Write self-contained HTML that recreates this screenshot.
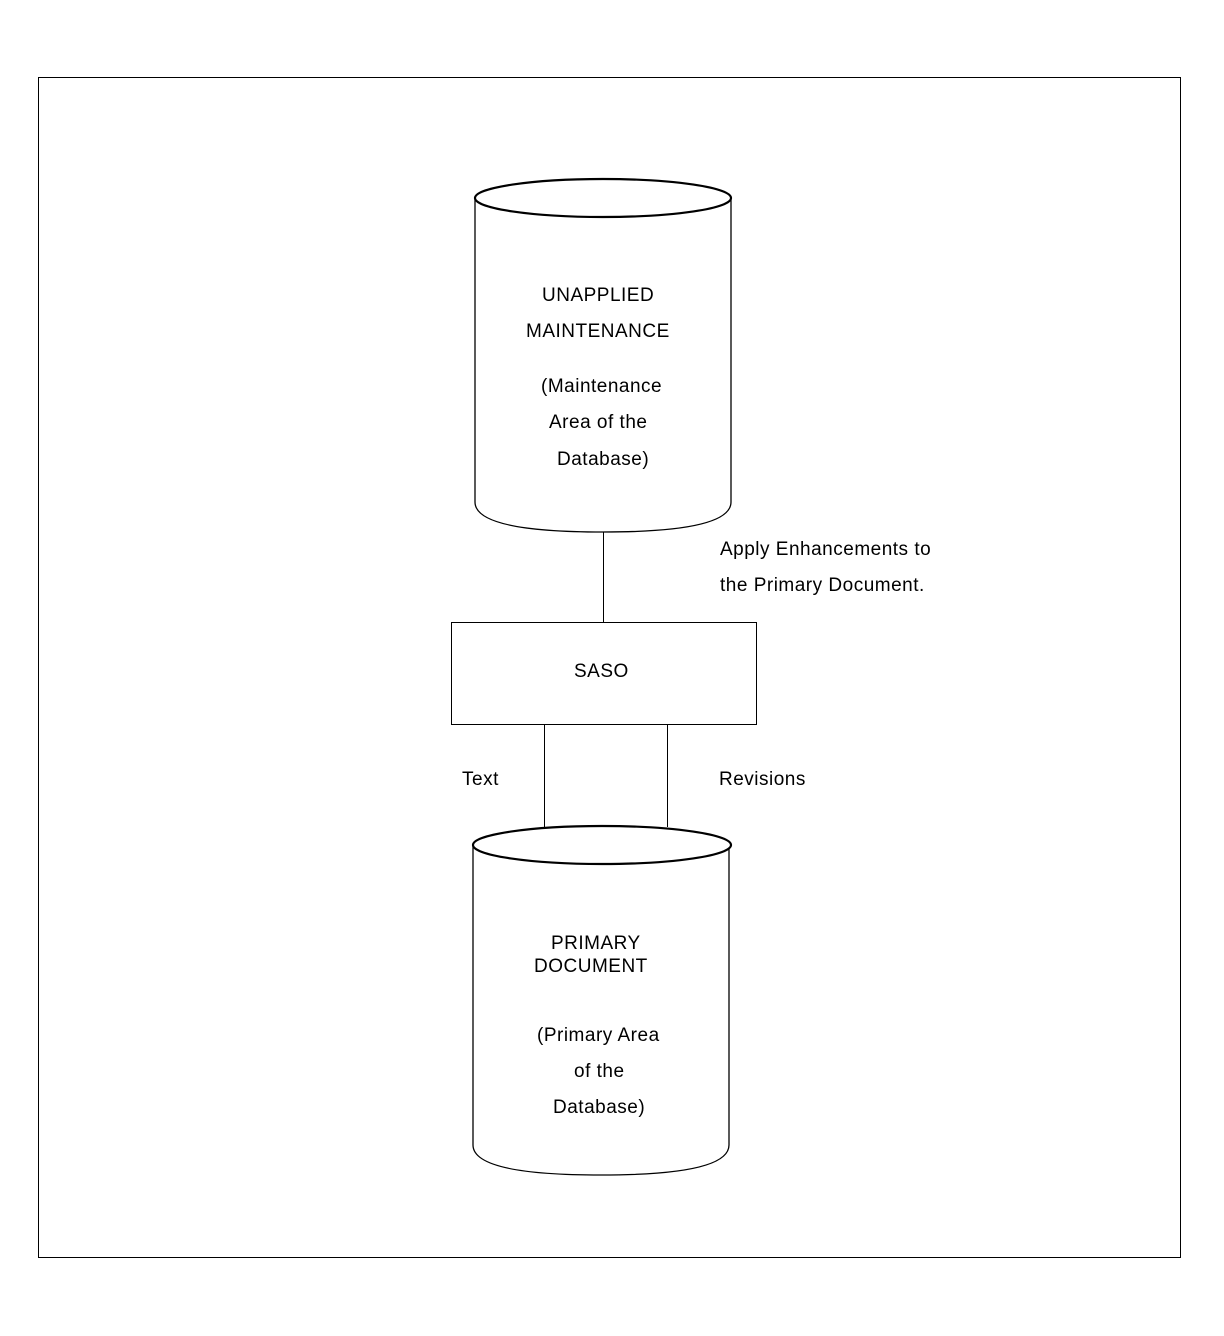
<!DOCTYPE html>
<html><head><style>body{margin:0;background:#fff}svg{display:block}text{font-family:"Liberation Sans",Arial,sans-serif;font-size:19px;fill:#000;letter-spacing:0.5px}</style></head><body>
<svg width="1224" height="1336" xmlns="http://www.w3.org/2000/svg">
<rect x="38.5" y="77.5" width="1142" height="1180" fill="none" stroke="#000" stroke-width="1"/>
<g fill="none" stroke="#000">
<path d="M475 198 L475 502 Q475 532 603 532 Q731 532 731 502 L731 198" stroke-width="1.3"/>
<ellipse cx="603" cy="198" rx="128" ry="19" stroke-width="2.2" fill="#fff"/>
<path d="M473 845 L473 1145 Q473 1175 601 1175 Q729 1175 729 1145 L729 845" stroke-width="1.3"/>
<ellipse cx="602" cy="845" rx="129" ry="19" stroke-width="2.2" fill="#fff"/>
<rect x="451.5" y="622.5" width="305" height="102" stroke-width="1"/>
<line x1="603.5" y1="532" x2="603.5" y2="622"/>
<line x1="544.5" y1="725" x2="544.5" y2="827"/>
<line x1="667.5" y1="725" x2="667.5" y2="827"/>
</g>
<text x="542" y="301">UNAPPLIED</text>
<text x="526" y="337">MAINTENANCE</text>
<text x="541" y="392">(Maintenance</text>
<text x="549" y="428">Area of the</text>
<text x="557" y="465">Database)</text>
<text x="720" y="555">Apply Enhancements to</text>
<text x="720" y="591">the Primary Document.</text>
<text x="574" y="677">SASO</text>
<text x="462" y="785">Text</text>
<text x="719" y="785">Revisions</text>
<text x="551" y="949">PRIMARY</text>
<text x="534" y="972">DOCUMENT</text>
<text x="537" y="1041">(Primary Area</text>
<text x="574" y="1077">of the</text>
<text x="553" y="1113">Database)</text>
</svg>
</body></html>
